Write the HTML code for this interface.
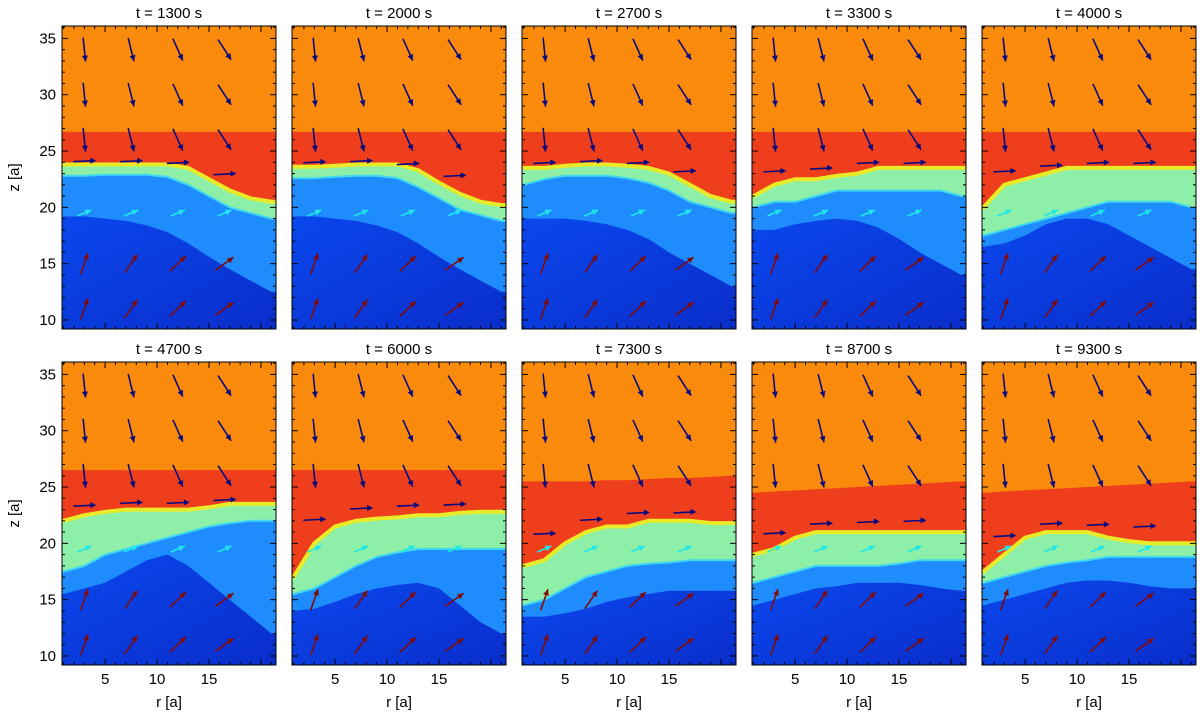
<!DOCTYPE html>
<html><head><meta charset="utf-8">
<style>
body{margin:0;background:#fff;}
svg{display:block;font-family:"Liberation Sans",sans-serif;}
</style></head>
<body>
<svg id="fig" width="1200" height="716" viewBox="0 0 1200 716"></svg>
<script>
const times = ["1300","2000","2700","3300","4000","4700","6000","7300","8700","9300"];
const rSamples = [1,3,5,7,9,11,13,15,17,19,21];
const redTop = [
 [26.7,26.7,26.7,26.7,26.7,26.7,26.7,26.7,26.7,26.7,26.7],
 [26.7,26.7,26.7,26.7,26.7,26.7,26.7,26.7,26.7,26.7,26.7],
 [26.7,26.7,26.7,26.7,26.7,26.7,26.7,26.7,26.7,26.7,26.7],
 [26.7,26.7,26.7,26.7,26.7,26.7,26.7,26.7,26.7,26.7,26.7],
 [26.7,26.7,26.7,26.7,26.7,26.7,26.7,26.7,26.7,26.7,26.7],
 [26.5,26.5,26.5,26.5,26.5,26.5,26.5,26.5,26.5,26.5,26.5],
 [26.5,26.5,26.5,26.5,26.5,26.5,26.5,26.5,26.5,26.5,26.5],
 [25.5,25.5,25.5,25.5,25.6,25.6,25.7,25.8,25.8,25.9,26],
 [24.5,24.6,24.7,24.8,24.9,25,25.1,25.2,25.3,25.4,25.5],
 [24.5,24.6,24.7,24.8,24.9,25,25.1,25.2,25.3,25.4,25.5]];
const yellowTop = [
 [23.8,23.8,23.8,23.8,23.8,23.8,23.5,22.5,21.5,20.8,20.5],
 [23.6,23.6,23.7,23.8,23.8,23.8,23.3,22.2,21.2,20.5,20.2],
 [23.5,23.5,23.7,23.8,23.8,23.7,23.5,23,22,21,20.5],
 [21,22,22.5,22.5,22.8,23,23.5,23.5,23.5,23.5,23.5],
 [20,22,22.5,23,23.5,23.5,23.5,23.5,23.5,23.5,23.5],
 [22,22.5,22.8,23,23,23,23,23.2,23.5,23.5,23.5],
 [17,20,21.5,22,22.2,22.3,22.5,22.5,22.7,22.8,22.8],
 [18,18.5,20,21,21.5,21.5,22,22,22,21.8,21.8],
 [19,19.5,20.5,21,21,21,21,21,21,21,21],
 [17.5,19,20.5,21,21,21,20.5,20.2,20,20,20]];
const cyanBottom = [
 [22.8,22.8,22.9,22.9,22.9,22.7,22,21,20,19.5,19],
 [22.6,22.6,22.7,22.8,22.8,22.6,21.8,20.8,19.8,19.3,18.8],
 [22,22.5,22.8,22.8,22.8,22.6,22.2,21.5,20.5,20,19.5],
 [20,20.5,20.5,21,21.5,21.5,21.5,21.5,21.5,21.5,21],
 [17.5,18,18.5,19,19.5,20,20.5,20.5,20.5,20.5,20],
 [17.5,18,19,19.5,20,20.5,21,21.5,21.8,22,22],
 [15.5,16,17,18,18.8,19.2,19.5,19.5,19.5,19.5,19.5],
 [14.5,15,16,17,17.5,18,18.2,18.3,18.5,18.5,18.5],
 [16.5,17,17.5,18,18,18,18,18.2,18.5,18.5,18.5],
 [16.5,17,17.5,18,18.3,18.5,18.8,18.8,18.8,18.8,18.8]];
const domeTop = [
 [19.2,19.2,19,18.8,18.4,17.8,16.8,15.6,14.5,13.5,12.5],
 [19.2,19.2,19,18.8,18.4,17.8,16.8,15.6,14.5,13.5,12.5],
 [19,19,19,18.8,18.5,18,17.2,16,15,14,13],
 [18,18,18.5,18.8,19,18.8,18.2,17.2,16,15,14],
 [16.5,16.8,17.5,18.5,19,19,18.5,17.5,16.5,15.5,14.5],
 [15.5,16,16.5,17.5,18.5,19,18,16.5,15,13.5,12],
 [14,14.2,14.8,15.5,16,16.3,16.5,16,14.5,13,12],
 [13.5,13.5,13.8,14.2,14.8,15.2,15.5,15.8,15.8,15.8,15.8],
 [14.5,15,15.5,16,16.2,16.5,16.5,16.5,16.3,16,15.8],
 [14.5,15,15.5,16,16.5,16.7,16.7,16.5,16.2,16,16]];
const arrowR = [3,7.5,12,16.5];
const arrowZ = [34,30,26,19.5,15,11];
const arrowDR = [0.1,0.25,0.45,0.65];
const xTicks = [5,10,15];
const yTicks = [10,15,20,25,30,35];

const NS="http://www.w3.org/2000/svg";
const fig=document.getElementById('fig');
function el(tag,attrs,parent){const e=document.createElementNS(NS,tag);for(const k in attrs)e.setAttribute(k,attrs[k]);(parent||fig).appendChild(e);return e;}
const defs=el('defs',{});
const g0=el('linearGradient',{id:'dk',x1:0,y1:0,x2:1,y2:1},defs);
el('stop',{offset:0,'stop-color':'#0a48ee'},g0);el('stop',{offset:1,'stop-color':'#0a2cc8'},g0);
const PW=214, R0=0.85, R1=21.45, Z0=9.2, Z1=36.1;
const colX=[62,292,522,752,982], rowY=[26,362], PH=303;
const arrowColors=["#0a0a80","#0a0a80","#0a0a80","#20e8e8","#800a0a","#800a0a"];

for(let p=0;p<10;p++){
  const ox=colX[p%5], oy=rowY[Math.floor(p/5)];
  const sx=r=>ox+(r-R0)/(R1-R0)*PW;
  const sy=z=>oy+(Z1-z)/(Z1-Z0)*PH;
  const g=el('g',{});
  
  
  const cp=el('clipPath',{id:'c'+p},defs);
  el('rect',{x:ox,y:oy,width:PW,height:PH},cp);
  const gi=el('g',{'clip-path':'url(#c'+p+')'},g);
  el('rect',{x:ox,y:oy,width:PW,height:PH,fill:'#fa8a0c'},gi);
  const area=(arr,fill,extra)=>{
    const first=arr[p][0], last=arr[p][arr[p].length-1];
    let d='M'+(ox-8)+' '+(oy+PH+8)+' L'+(ox-8)+' '+sy(first).toFixed(1);
    rSamples.forEach((r,i)=>{d+=' L'+sx(r).toFixed(1)+' '+sy(arr[p][i]).toFixed(1);});
    d+=' L'+(ox+PW+8)+' '+sy(last).toFixed(1)+' L'+(ox+PW+8)+' '+(oy+PH+8)+'Z';
    return el('path',Object.assign({d:d,fill:fill},extra||{}),gi);};
  const a1=area(redTop,'#ee3e1c');
  const a2=area(yellowTop,'#8ef0a8',{stroke:'#e8ec28','stroke-width':4});
  const a3=area(cyanBottom,'#1e8cfc',{stroke:'#40d8f0','stroke-width':2});
  const a4=area(domeTop,'url(#dk)');
  arrowZ.forEach((z,ri)=>{arrowR.forEach((r,ci)=>{
    const x=sx(r), y=sy(z);
    let dx,dy;
    if(ri<3){const L=24;const a=arrowDR[ci];dx=L*a/Math.hypot(a,1);dy=L/Math.hypot(a,1);}
    else if(ri===3){dx=14;dy=-6;}
    else {const L=22;const a=0.35+ci*0.35;dx=L*a/Math.hypot(a,1);dy=-L/Math.hypot(a,1);}
    const x0=x-dx/2,y0=y-dy/2,x1=x+dx/2,y1=y+dy/2;
    const ang=Math.atan2(y1-y0,x1-x0);
    const col=arrowColors[ri];
    const ar=el('g',{},gi);
    
    
    el('line',{x1:x0,y1:y0,x2:x1,y2:y1,stroke:col,'stroke-width':1.6},ar);
    const h=6,w=3;
    const bx=x1-h*Math.cos(ang),by=y1-h*Math.sin(ang);
    el('polygon',{points:`${x1},${y1} ${bx-w*Math.sin(ang)},${by+w*Math.cos(ang)} ${bx+w*Math.sin(ang)},${by-w*Math.cos(ang)}`,fill:col},ar);
  });});
  [3,7.5,12,16.5].forEach(r=>{
    const i=Math.min(10,Math.round((r-1)/2));
    const z=(yellowTop[p][i]+redTop[p][i])/2-1.2;
    const x=sx(r),y=sy(z);
    const ar=el('g',{},gi);
    
    
    el('line',{x1:x-11,y1:y,x2:x+9,y2:y-1,stroke:'#0a0a80','stroke-width':1.6},ar);
    el('polygon',{points:`${x+12},${y-1} ${x+6},${y-4} ${x+6},${y+2}`,fill:'#0a0a80'},ar);
  });
  const fr=el('rect',{x:ox,y:oy,width:PW,height:PH,fill:'none',stroke:'#000','stroke-width':1},g);
  
  for(let r=1;r<=21;r++){const L=r%5===0?6:3;el('line',{x1:sx(r),y1:oy+PH,x2:sx(r),y2:oy+PH-L,stroke:'#000'},g);el('line',{x1:sx(r),y1:oy,x2:sx(r),y2:oy+L,stroke:'#000'},g);}
  for(let z=10;z<=36;z++){const L=z%5===0?6:3;el('line',{x1:ox,y1:sy(z),x2:ox+L,y2:sy(z),stroke:'#000'},g);el('line',{x1:ox+PW,y1:sy(z),x2:ox+PW-L,y2:sy(z),stroke:'#000'},g);}
  const t=el('text',{x:ox+PW/2,y:oy-8,'text-anchor':'middle','font-size':15},g);
  t.textContent='t = '+times[p]+' s';
  
  if(p%5===0){
    yTicks.forEach(v=>{const tt=el('text',{x:ox-6,y:sy(v)+5,'text-anchor':'end','font-size':15},g);tt.textContent=v;});
    const yl=el('text',{x:0,y:0,'text-anchor':'middle','font-size':15,transform:`translate(19,${oy+PH/2}) rotate(-90)`},g);
    yl.textContent='z [a]';
  }
  if(p>=5){
    xTicks.forEach(v=>{const tt=el('text',{x:sx(v),y:oy+PH+19,'text-anchor':'middle','font-size':15},g);tt.textContent=v;});
    const xl=el('text',{x:ox+PW/2,y:707,'text-anchor':'middle','font-size':15},g);
    xl.textContent='r [a]';
  }
}
</script>
</body></html>
